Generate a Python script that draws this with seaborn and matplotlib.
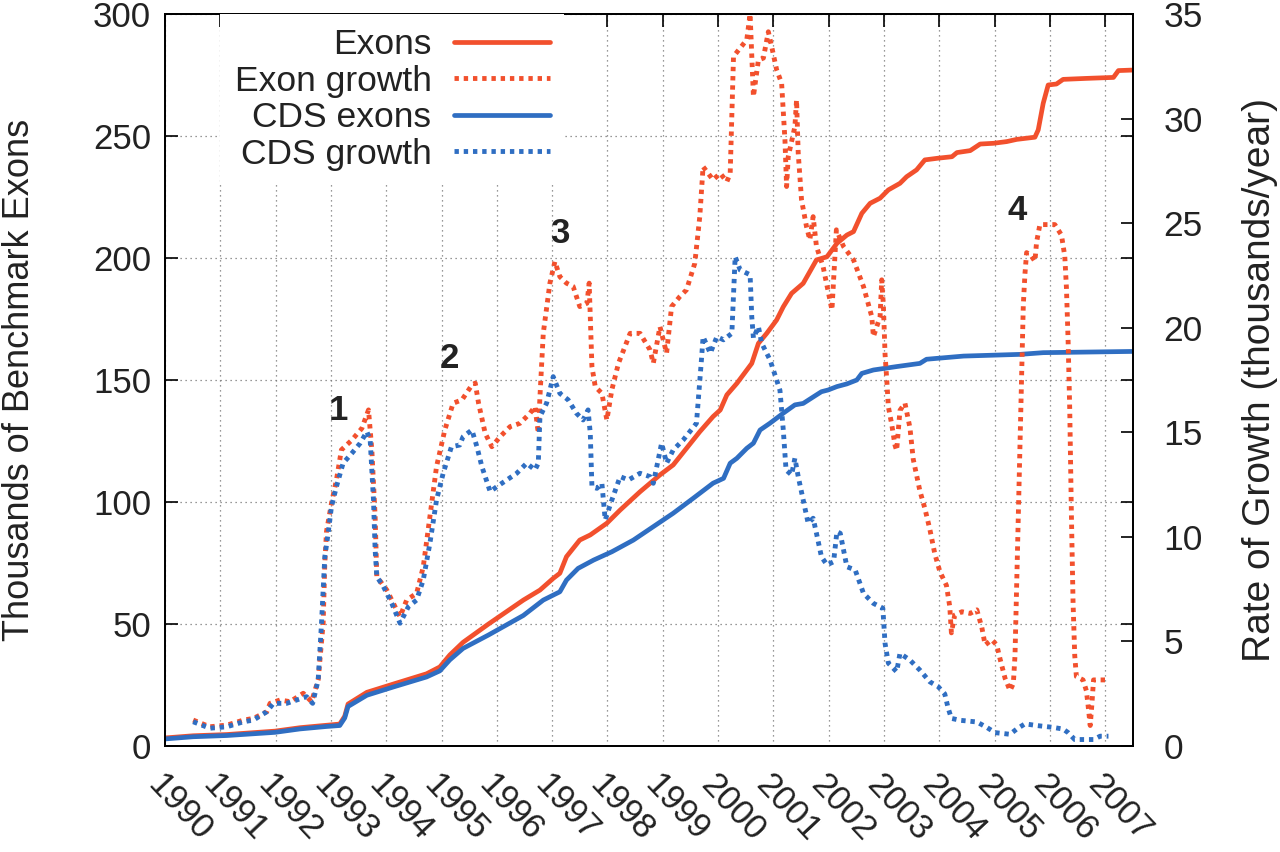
import matplotlib
matplotlib.use("Agg")
import matplotlib.pyplot as plt
import matplotlib.transforms as mtransforms
import seaborn as sns

# Exons (thousands) - solid red
exon_years = [1990.00, 1990.51, 1991.12, 1991.99, 1992.44, 1992.92, 1993.16, 1993.25, 1993.31, 1993.65,
              1994.13, 1994.73, 1994.97, 1995.15, 1995.39, 1995.85, 1996.48, 1996.78, 1997.02, 1997.14,
              1997.26, 1997.50, 1997.69, 1997.99, 1998.23, 1998.59, 1998.95, 1999.19, 1999.43, 1999.67,
              1999.91, 2000.04, 2000.16, 2000.34, 2000.61, 2000.73, 2000.88, 2001.06, 2001.18, 2001.33,
              2001.54, 2001.78, 2001.97, 2002.15, 2002.33, 2002.45, 2002.60, 2002.75, 2002.93, 2003.08,
              2003.29, 2003.41, 2003.59, 2003.74, 2003.98, 2004.23, 2004.32, 2004.56, 2004.74, 2004.98,
              2005.22, 2005.40, 2005.73, 2005.79, 2005.88, 2005.97, 2006.12, 2006.24, 2006.66, 2007.15,
              2007.24, 2007.48]
exon_total = [3.3, 4.2, 4.7, 6.1, 7.5, 8.5, 9.0, 12.2, 17.2, 22.0,
              25.4, 29.6, 32.4, 37.3, 42.5, 50.0, 59.8, 63.9, 68.7, 70.8,
              77.6, 84.4, 86.5, 91.3, 96.7, 104.2, 111.1, 115.2, 122.0, 128.8,
              135.0, 137.7, 143.9, 148.6, 156.8, 165.0, 169.1, 174.6, 180.0, 185.5,
              189.6, 199.2, 200.5, 206.0, 209.4, 210.8, 218.3, 222.4, 224.5, 227.9,
              230.6, 233.3, 236.1, 240.2, 240.9, 241.5, 243.2, 244.0, 246.7, 247.0,
              247.7, 248.6, 249.5, 252.5, 263.4, 270.9, 271.3, 273.2, 273.6, 274.0,
              276.8, 277.0]

# CDS exons (thousands) - solid blue
cds_years = [1990.00, 1990.51, 1991.12, 1991.99, 1992.44, 1992.92, 1993.16, 1993.25, 1993.31, 1993.65,
             1994.13, 1994.73, 1994.97, 1995.15, 1995.39, 1995.85, 1996.48, 1996.84, 1997.14, 1997.26,
             1997.47, 1997.75, 1998.08, 1998.47, 1998.83, 1999.19, 1999.55, 1999.91, 2000.10, 2000.22,
             2000.34, 2000.52, 2000.64, 2000.76, 2000.94, 2001.18, 2001.39, 2001.54, 2001.78, 2001.87,
             2001.99, 2002.15, 2002.33, 2002.51, 2002.60, 2002.81, 2003.23, 2003.65, 2003.77, 2004.44,
             2005.46, 2005.88, 2007.48]
cds_total = [2.9, 3.8, 4.3, 5.6, 7.0, 8.0, 8.4, 11.5, 16.2, 20.8,
             24.2, 28.3, 30.8, 35.3, 40.0, 45.5, 53.5, 59.8, 63.2, 68.0,
             72.8, 76.2, 79.6, 84.4, 89.9, 95.4, 101.5, 107.7, 109.7, 115.9,
             117.9, 122.0, 124.1, 129.5, 132.3, 136.4, 139.8, 140.4, 143.9, 145.2,
             145.9, 147.3, 148.4, 150.0, 152.7, 154.1, 155.5, 156.8, 158.5, 159.8,
             160.5, 161.2, 161.7]

# Exon growth (thousands/year) - dotted red
exon_growth_years = [1990.51, 1990.81, 1991.12, 1991.42, 1991.60, 1991.84, 1991.90, 1992.08, 1992.26, 1992.50,
                     1992.65, 1992.77, 1992.86, 1992.89, 1992.92, 1993.01, 1993.10, 1993.19, 1993.38, 1993.56,
                     1993.68, 1993.74, 1993.80, 1993.83, 1994.01, 1994.13, 1994.25, 1994.37, 1994.55, 1994.67,
                     1994.79, 1994.91, 1995.06, 1995.21, 1995.37, 1995.55, 1995.61, 1995.67, 1995.79, 1995.91,
                     1996.06, 1996.24, 1996.42, 1996.60, 1996.69, 1996.75, 1996.78, 1996.84, 1996.96, 1997.05,
                     1997.14, 1997.26, 1997.38, 1997.50, 1997.63, 1997.67, 1997.69, 1997.72, 1997.78, 1997.90,
                     1997.99, 1998.08, 1998.20, 1998.41, 1998.59, 1998.77, 1998.83, 1998.95, 1999.07, 1999.16,
                     1999.31, 1999.43, 1999.58, 1999.67, 1999.73, 1999.91, 2000.04, 2000.16, 2000.22, 2000.28,
                     2000.40, 2000.52, 2000.58, 2000.64, 2000.73, 2000.82, 2000.91, 2000.97, 2001.06, 2001.15,
                     2001.21, 2001.24, 2001.27, 2001.39, 2001.42, 2001.45, 2001.51, 2001.60, 2001.66, 2001.72,
                     2001.78, 2001.90, 2002.06, 2002.14, 2002.27, 2002.45, 2002.63, 2002.78, 2002.81, 2002.93,
                     2002.96, 2002.99, 2003.02, 2003.05, 2003.08, 2003.14, 2003.20, 2003.23, 2003.29, 2003.38,
                     2003.47, 2003.53, 2003.65, 2003.74, 2003.83, 2003.92, 2004.01, 2004.13, 2004.19, 2004.22,
                     2004.28, 2004.41, 2004.56, 2004.68, 2004.77, 2004.83, 2004.95, 2005.04, 2005.10, 2005.19,
                     2005.28, 2005.34, 2005.37, 2005.40, 2005.43, 2005.46, 2005.49, 2005.52, 2005.55, 2005.58,
                     2005.67, 2005.73, 2005.76, 2005.82, 2005.94, 2006.09, 2006.21, 2006.27, 2006.30, 2006.33,
                     2006.36, 2006.39, 2006.42, 2006.45, 2006.48, 2006.60, 2006.66, 2006.69, 2006.73, 2006.76,
                     2006.79, 2006.91, 2007.03]
exon_growth = [1.24, 0.92, 1.00, 1.24, 1.32, 1.64, 2.04, 2.20, 2.12, 2.52,
               2.12, 3.16, 5.87, 8.74, 10.25, 11.60, 12.72, 14.16, 14.63, 15.19,
               16.07, 14.16, 10.97, 8.10, 7.46, 6.82, 6.18, 6.98, 7.30, 8.57,
               10.97, 13.36, 15.11, 16.39, 16.55, 17.26, 17.35, 16.39, 14.95, 14.31,
               14.79, 15.27, 15.43, 15.91, 16.23, 14.95, 16.70, 19.73, 22.13, 23.16,
               22.44, 22.13, 21.97, 21.01, 21.17, 22.13, 20.53, 18.14, 17.18, 16.86,
               15.59, 17.03, 18.30, 19.73, 19.73, 18.94, 18.30, 20.05, 18.78, 21.01,
               21.49, 21.81, 23.08, 25.31, 27.70, 27.07, 27.38, 26.98, 27.38, 32.97,
               33.37, 33.77, 35.00, 31.05, 32.80, 32.89, 34.15, 33.44, 32.33, 31.69,
               28.98, 26.75, 28.18, 29.62, 30.89, 28.35, 26.11, 24.83, 24.20, 25.31,
               23.88, 22.92, 20.85, 24.68, 23.88, 23.24, 21.97, 20.53, 19.57, 20.53,
               22.29, 21.08, 18.73, 17.56, 16.22, 15.39, 14.38, 14.13, 16.05, 16.39,
               15.22, 13.71, 12.20, 11.36, 10.36, 9.19, 8.35, 7.68, 6.67, 5.41,
               6.26, 6.42, 6.34, 6.51, 5.67, 4.83, 5.08, 4.83, 4.16, 3.24,
               2.65, 2.99, 4.33, 7.68, 11.03, 14.38, 17.73, 21.08, 22.58, 23.59,
               23.42, 23.17, 24.09, 24.93, 24.93, 24.93, 24.43, 23.42, 21.91, 19.40,
               16.05, 11.03, 6.84, 4.33, 3.32, 3.16, 2.65, 1.98, 0.98, 1.98,
               3.16, 3.16, 3.16]

# CDS growth (thousands/year) - dotted blue
cds_growth_years = [1990.51, 1990.81, 1991.12, 1991.42, 1991.60, 1991.84, 1991.96, 1992.20, 1992.38, 1992.56,
                    1992.67, 1992.77, 1992.83, 1992.89, 1992.95, 1993.01, 1993.10, 1993.22, 1993.38, 1993.53,
                    1993.65, 1993.71, 1993.77, 1993.80, 1993.83, 1993.95, 1994.10, 1994.25, 1994.40, 1994.55,
                    1994.67, 1994.79, 1994.91, 1995.03, 1995.18, 1995.33, 1995.39, 1995.55, 1995.64, 1995.73,
                    1995.88, 1996.00, 1996.18, 1996.36, 1996.54, 1996.69, 1996.75, 1996.78, 1996.90, 1997.02,
                    1997.14, 1997.29, 1997.44, 1997.56, 1997.65, 1997.69, 1997.72, 1997.81, 1997.90, 1997.96,
                    1998.08, 1998.23, 1998.38, 1998.59, 1998.77, 1998.83, 1998.98, 1999.07, 1999.19, 1999.37,
                    1999.61, 1999.70, 1999.73, 1999.86, 1999.98, 2000.10, 2000.25, 2000.31, 2000.40, 2000.58,
                    2000.61, 2000.64, 2000.73, 2000.79, 2000.94, 2001.06, 2001.12, 2001.18, 2001.23, 2001.33,
                    2001.39, 2001.45, 2001.54, 2001.63, 2001.72, 2001.78, 2001.87, 2001.97, 2002.09, 2002.15,
                    2002.21, 2002.27, 2002.33, 2002.48, 2002.63, 2002.81, 2002.98, 2003.02, 2003.08, 2003.23,
                    2003.29, 2003.47, 2003.65, 2003.83, 2003.98, 2004.10, 2004.16, 2004.22, 2004.38, 2004.68,
                    2004.86, 2005.01, 2005.28, 2005.40, 2005.55, 2005.76, 2006.06, 2006.24, 2006.33, 2006.45,
                    2006.60, 2006.79, 2006.91, 2007.06]
cds_growth = [1.16, 0.85, 0.92, 1.16, 1.24, 1.64, 2.04, 2.04, 2.20, 2.36,
              2.04, 3.16, 5.87, 9.05, 10.17, 11.44, 12.40, 13.52, 14.00, 14.48,
              15.03, 14.63, 11.76, 9.37, 8.10, 7.62, 6.82, 5.87, 6.66, 6.98,
              7.94, 9.69, 11.76, 13.04, 14.31, 14.39, 14.79, 15.11, 14.31, 13.36,
              12.16, 12.40, 12.72, 13.04, 13.52, 13.20, 13.52, 15.75, 16.39, 17.66,
              16.86, 16.55, 15.91, 15.59, 16.07, 14.95, 12.40, 12.32, 12.56, 10.81,
              11.76, 12.88, 12.72, 13.04, 12.88, 12.56, 14.48, 13.52, 14.16, 14.63,
              15.43, 18.46, 19.57, 18.78, 19.57, 19.42, 19.73, 23.40, 22.76, 22.53,
              20.53, 19.50, 20.05, 19.26, 18.46, 17.50, 17.00, 15.11, 13.20, 12.96,
              13.76, 12.88, 11.76, 10.65, 10.89, 10.17, 9.05, 8.66, 8.81, 10.25,
              10.17, 9.37, 8.57, 8.42, 7.30, 6.82, 6.59, 4.91, 3.96, 3.55,
              4.43, 4.11, 3.63, 3.07, 2.84, 2.49, 1.82, 1.32, 1.23, 1.15,
              0.89, 0.64, 0.56, 0.81, 1.06, 0.98, 0.89, 0.81, 0.64, 0.31,
              0.31, 0.31, 0.47, 0.47]

# numbered episodes
note_labels = ["1", "2", "3", "4"]
note_years = [1993.13, 1995.15, 1997.14, 2005.40]
note_heights = [137.7, 159.0, 210.2, 219.4]

year_ticks = list(range(1990, 2008))
left_ticks = [0, 50, 100, 150, 200, 250, 300]
right_ticks = [0, 5, 10, 15, 20, 25, 30, 35]

RED = "#F2502D"
BLUE = "#2F6EC2"
TEXT = "#222222"

sns.set_style("white")
plt.rcParams["font.family"] = ["Liberation Sans", "DejaVu Sans"]

fig = plt.figure(figsize=(12.8, 8.52), dpi=100)
ax = fig.add_axes([0.1289, 0.1244, 0.7561, 0.8592])
ax2 = ax.twinx()

dot = (0, (0.9, 1.0))
sns.lineplot(x=exon_years, y=exon_total, ax=ax, color=RED, lw=3.4, label="Exons", sort=False)
sns.lineplot(x=cds_years, y=cds_total, ax=ax, color=BLUE, lw=3.4, label="CDS exons", sort=False)
sns.lineplot(x=exon_growth_years, y=exon_growth, ax=ax2, color=RED, lw=3.5,
             linestyle=dot, label="Exon growth", sort=False)
sns.lineplot(x=cds_growth_years, y=cds_growth, ax=ax2, color=BLUE, lw=3.5,
             linestyle=dot, label="CDS growth", sort=False)
for a in (ax, ax2):
    if a.get_legend() is not None:
        a.get_legend().remove()

ax.set_xlim(1990, 2007.5)
ax.set_ylim(0, 300)
ax2.set_ylim(0, 35)

ax.set_xticks(year_ticks)
ax.set_xticklabels([str(y) for y in year_ticks], rotation=-47, ha="left", va="top",
                   rotation_mode="anchor")
shift = mtransforms.ScaledTranslation(8 / 72, 0, fig.dpi_scale_trans)
for lbl in ax.get_xticklabels():
    lbl.set_transform(lbl.get_transform() + shift)
ax.set_yticks(left_ticks)
ax2.set_yticks(right_ticks)

ax.tick_params(axis="both", direction="in", length=9, width=1.2, labelsize=25,
               colors="black", labelcolor=TEXT, top=True, right=True)
ax.tick_params(axis="x", pad=16)
ax.tick_params(axis="y", pad=10)
ax2.tick_params(axis="y", direction="in", length=9, width=1.2, labelsize=25.5,
                colors="black", labelcolor=TEXT, pad=22)

ax.grid(True, color="#777777", linestyle=(0, (1, 3)), linewidth=0.9)
ax2.grid(False)
for a in (ax, ax2):
    for s in a.spines.values():
        s.set_visible(True)
        s.set_color("black")
        s.set_linewidth(1.3)

ax.set_xlabel("")
ax.set_ylabel("Thousands of Benchmark Exons", fontsize=26, color=TEXT, labelpad=40)
ax2.set_ylabel("Rate of Growth (thousands/year)", fontsize=28, color=TEXT, labelpad=28)

for lab, yr, h in zip(note_labels, note_years, note_heights):
    ax.text(yr, h, lab, ha="center", va="center", fontsize=25, fontweight="bold", color=TEXT)

h1, l1 = ax.get_legend_handles_labels()
h2, l2 = ax2.get_legend_handles_labels()
handles = [h1[0], h2[0], h1[1], h2[1]]
labels = [l1[0], l2[0], l1[1], l2[1]]
leg = ax2.legend(handles, labels, loc="upper right", bbox_to_anchor=(0.4125, 1.0),
                 markerfirst=False, handlelength=2.7, handletextpad=0.65,
                 labelspacing=0.1, borderpad=0.4, borderaxespad=0.0,
                 frameon=True, fancybox=False, framealpha=1.0,
                 facecolor="white", edgecolor="none", fontsize=25.5)
for t in leg.get_texts():
    t.set_color(TEXT)

fig.savefig("out.png", dpi=100)
